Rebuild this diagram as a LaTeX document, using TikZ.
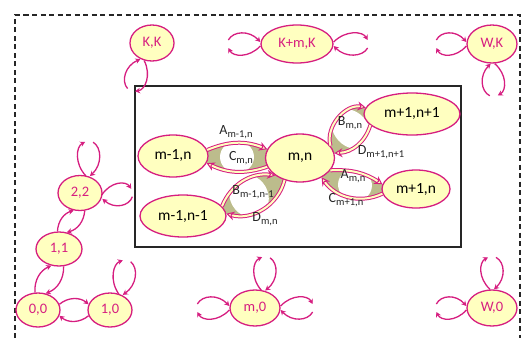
\documentclass[tikz,border=0pt]{standalone}
\usepackage{fontspec}
\setmainfont{Carlito}
\usetikzlibrary{shapes.geometric,arrows.meta,calc}
\pgfdeclarelayer{background}
\pgfsetlayers{background,main}
\definecolor{mag}{RGB}{214,30,128}
\definecolor{cream}{RGB}{255,255,192}
\definecolor{khaki}{RGB}{188,188,140}
\tikzset{
  outer/.style={ellipse, draw=mag, line width=1.3pt, fill=cream, text=mag,
    inner sep=0pt, font=\fontsize{14.5}{14.5}\selectfont},
  inner/.style={ellipse, draw=mag, line width=1.3pt, fill=cream, text=black,
    inner sep=0pt, font=\fontsize{15.5}{15.5}\selectfont},
  outarrow/.style={draw=mag, line width=1.3pt, -{Stealth[length=5pt,width=5.5pt]}},
  blockarrow/.style={draw=mag, line width=1pt, double=cream, double distance=2pt,
    -{Stealth[length=8pt,width=9pt,fill=cream]}},
  frame/.style={draw=black!85, line width=1.3pt, dash pattern=on 5pt off 3.5pt},
  rate/.style={font=\fontsize{14}{14}\selectfont, text=black!85, inner sep=0pt}
}
% rate symbol with its subscript
\newcommand\rsym[2]{#1\raisebox{-2.5pt}{\fontsize{10.5}{10.5}\selectfont #2}}
% pair of curved arrows leaving a state and coming back to it
\newcommand\selfloop[4]{%
  \begin{scope}[shift={(#1.#2)}, rotate=#3]
    \draw[outarrow] (0,2) .. controls (0.35*#4,14) and (0.85*#4,13) .. (#4,4);
    \draw[outarrow] (#4,-4) .. controls (0.85*#4,-13) and (0.35*#4,-14) .. (0,-2);
  \end{scope}}
\begin{document}
\begin{tikzpicture}[x=1pt,y=1pt]
\useasboundingbox (0,0) rectangle (523,-338);

% open dashed outline
\draw[frame] (15,-338) -- (15,-15) -- (520,-15) -- (520,-338);

% boundary states
\node[outer, minimum width=44pt, minimum height=36pt] (kk)  at (152,-43) {K,K};
\node[outer, minimum width=72pt, minimum height=38pt] (kmk) at (297,-44) {K+m,K};
\node[outer, minimum width=50pt, minimum height=38pt] (wk)  at (492,-44) {W,K};
\node[outer, minimum width=44pt, minimum height=35pt] (n22) at (80,-193) {2,2};
\node[outer, minimum width=46pt, minimum height=34pt] (n11) at (59,-249) {1,1};
\node[outer, minimum width=44pt, minimum height=34pt] (n00) at (38,-310) {0,0};
\node[outer, minimum width=44pt, minimum height=34pt] (n10) at (110,-310) {1,0};
\node[outer, minimum width=50pt, minimum height=36pt] (m0)  at (255,-308) {m,0};
\node[outer, minimum width=50pt, minimum height=36pt] (w0)  at (492,-308) {W,0};

% generic neighbourhood of state (m,n)
\node[inner, minimum width=70pt, minimum height=42pt] (mn1) at (173,-156) {m-1,n};
\node[inner, minimum width=69pt, minimum height=48pt] (mn)  at (300,-158) {m,n};
\node[inner, minimum width=96pt, minimum height=42pt] (mp1) at (412,-114) {m+1,n+1};
\node[inner, minimum width=68pt, minimum height=38pt] (mp)  at (416,-189) {m+1,n};
\node[inner, minimum width=86pt, minimum height=42pt] (mm)  at (183,-216) {m-1,n-1};

\begin{pgfonlayer}{background}
  \draw[line width=1.1pt, black!85] (135,-86) rectangle (461,-247);
  % shaded wedges where the paired arrows meet the states
  \fill[khaki] (mn1.10) to[bend left=22] (mn.165) -- (mn.195) to[bend left=22] (mn1.-12) -- cycle;
  \fill[white] (237,-157) ellipse[x radius=17, y radius=16];
  \fill[khaki] (mn.22) to[bend left=58] (mp1.172) -- (mp1.195) to[bend left=35] (mn.8) -- cycle;
  \fill[white, rotate around={43:(351,-129)}] (351,-129) ellipse[x radius=17, y radius=22];
  \fill[khaki] (mn.-22) to[bend left=18] (mp.172) -- (mp.188) to[bend left=40] (mn.-42) -- cycle;
  \fill[white, rotate around={-16:(355,-185)}] (355,-185) ellipse[x radius=17, y radius=16];
  \fill[khaki] (mm.14) to[bend left=38] (mn.215) -- (mn.235) to[bend left=46] (mm.3) -- cycle;
  \fill[white, rotate around={30:(249,-196)}] (249,-196) ellipse[x radius=19, y radius=22];
\end{pgfonlayer}

% transitions inside the box
\draw[blockarrow] (mn1.10) to[bend left=22] (mn.165);
\draw[blockarrow] (mn.195) to[bend left=22] (mn1.-12);
\draw[blockarrow] (mn.22) to[bend left=58] (mp1.172);
\draw[blockarrow] (mp1.195) to[bend left=35] (mn.8);
\draw[blockarrow] (mn.-22) to[bend left=18] (mp.172);
\draw[blockarrow] (mp.188) to[bend left=40] (mn.-42);
\draw[blockarrow] (mm.14) to[bend left=38] (mn.215);
\draw[blockarrow] (mn.235) to[bend left=46] (mm.3);

\node[rate] (la1) at (236,-132) {\rsym{A}{m-1,n}};
\node[rate] (lc1) at (241,-158) {\rsym{C}{m,n}};
\node[rate] (lb1) at (350,-123) {\rsym{B}{m,n}};
\node[rate] (ld1) at (381,-152) {\rsym{D}{m+1,n+1}};
\node[rate] (la2) at (353,-176) {\rsym{A}{m,n}};
\node[rate] (lc2) at (346,-200) {\rsym{C}{m+1,n}};
\node[rate] (lb2) at (253,-192) {\rsym{B}{m-1,n-1}};
\node[rate] (ld2) at (265,-219) {\rsym{D}{m,n}};

% transitions between boundary states
\draw[outarrow] (n00.15) to[bend left=40] (n10.165);
\draw[outarrow] (n10.195) to[bend left=40] (n00.-15);
\draw[outarrow] (n00.100) to[bend left=35] (n11.245);
\draw[outarrow] (n11.285) to[bend left=35] (n00.65);
\draw[outarrow] (n11.95) to[bend left=35] (n22.250);
\draw[outarrow] (n22.285) to[bend left=35] (n11.65);

\selfloop{kk}{240}{250}{32}
\selfloop{kmk}{180}{180}{32}
\selfloop{kmk}{0}{0}{34}
\selfloop{wk}{180}{180}{30}
\selfloop{wk}{272}{272}{32}
\selfloop{n22}{65}{88}{34}
\selfloop{n22}{350}{8}{30}
\selfloop{n10}{55}{80}{34}
\selfloop{m0}{65}{85}{33}
\selfloop{m0}{180}{180}{32}
\selfloop{m0}{0}{0}{32}
\selfloop{w0}{90}{90}{32}
\selfloop{w0}{180}{180}{30}
\end{tikzpicture}
\end{document}
